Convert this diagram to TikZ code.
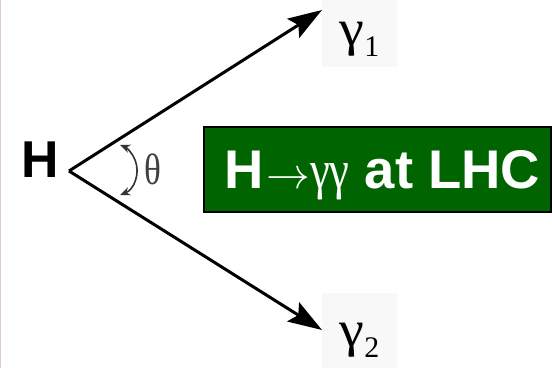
\documentclass[tikz,border=0pt]{standalone}
\usepackage{fontspec}
\setmainfont{Liberation Sans}
\newfontfamily\greekfont{Liberation Serif}
\usetikzlibrary{positioning,arrows.meta}
\definecolor{lhcgreen}{RGB}{0,100,0}
\definecolor{labelgray}{RGB}{248,248,248}
\definecolor{edgepink}{RGB}{222,202,202}

\begin{document}
\begin{tikzpicture}[
    x=0.02cm, y=0.02cm,
    photon/.style={-{Stealth[length=0.68cm, width=0.45cm, inset=0.12cm]}, line width=0.06cm},
    gammabox/.style={rectangle, fill=labelgray, inner sep=0pt, minimum width=1.5cm, text depth=0pt, font=\greekfont\fontsize{29}{29}\selectfont},
    anglearrow/.style={{Stealth[length=0.2cm, width=0.17cm]}-{Stealth[length=0.2cm, width=0.17cm]}, line width=0.032cm, draw=black!80},
    titlebox/.style={rectangle, draw=black, line width=0.04cm, fill=lhcgreen, text=white, inner xsep=0pt, minimum width=6.94cm, minimum height=1.7cm, text height=0.78cm, text depth=0pt, font=\bfseries\fontsize{31}{31}\selectfont}
]
\useasboundingbox (0,0) rectangle (552,368);
\draw[edgepink, line width=0.02cm] (0.5,0) -- (0.5,368);

% --- Decay vertex ---
\coordinate (vertex) at (69,197);
\node[anchor=base, font=\bfseries\fontsize{29.5}{29.5}\selectfont] (higgs) at (40.5,190) {H};

% --- Photons ---
\node[gammabox, minimum height=1.34cm, text height=0.5cm] (gamma1) at (359.5,334.5) {\scalebox{1.1}[1]{γ}\raisebox{-0.22cm}{\fontsize{17}{17}\selectfont 1}};
\node[gammabox, minimum height=1.5cm, text height=0.66cm] (gamma2) at (359.5,37.5) {\scalebox{1.1}[1]{γ}\raisebox{-0.22cm}{\fontsize{17}{17}\selectfont 2}};
\coordinate (tip1) at (322,358);
\coordinate (tip2) at (322,38);
\draw[photon] (vertex) -- (tip1);
\draw[photon] (vertex) -- (tip2);

% --- Opening angle ---
\coordinate (arccenter) at (110,198);
\draw[anglearrow] ([shift={(-68:0.54cm)}]arccenter) arc[start angle=-68, end angle=68, radius=0.54cm];
\node[font=\greekfont\fontsize{25}{25}\selectfont, text=black!75] (theta) at (152.5,198.5) {\scalebox{0.8}[1]{θ}};

% --- Title ---
\node[titlebox] (lhc) at (377.5,198.5) {\hspace*{0.2cm}H\kern0.05cm{\fontsize{28}{28}\selectfont$\rightarrow$}{\mdseries\greekfont\scalebox{0.82}[1]{γγ}} at LHC};

\end{tikzpicture}
\end{document}
